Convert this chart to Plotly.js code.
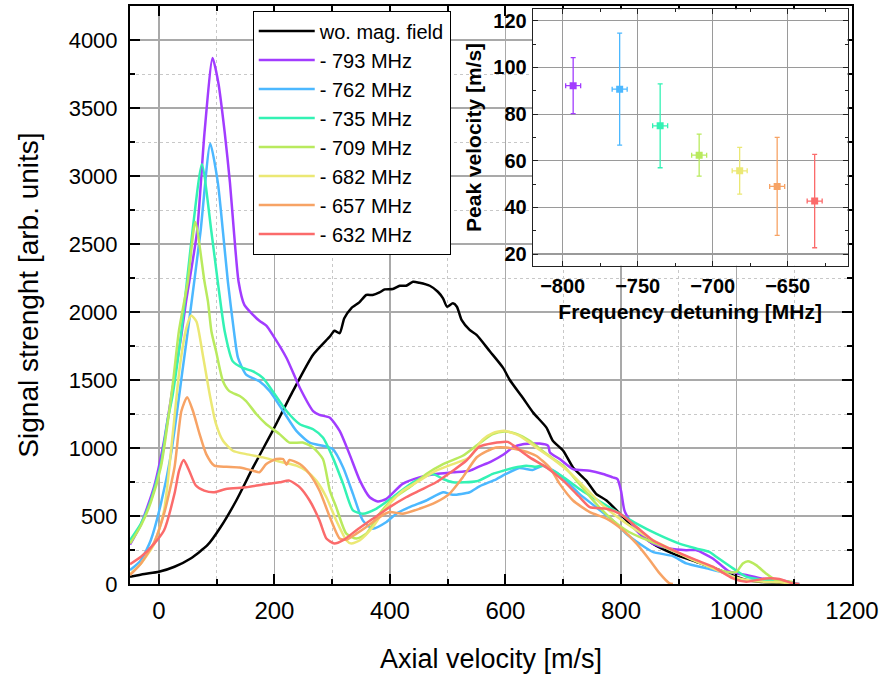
<!DOCTYPE html>
<html><head><meta charset="utf-8">
<script src="https://cdn.plot.ly/plotly-3.0.1.min.js"></script>
<style>html,body{margin:0;padding:0;background:#fff}#chart{width:883px;height:679px}</style>
</head><body><div id="chart"></div>
<script>
// ---- main chart data: axial velocity [m/s] vs signal strength [arb. units]
const vBlack = [-50,-25,0,27,55,84,107,134,163,197,232,267,296,304,313,321,333,347,359,370,382,391,405,417,428,440,451,469,483,492,499,509,516,524,538,550,573,596,607,630,648,671,682,700,717,740,757,775,798,827,855,890,930,971,1000,1017,1043,1100];
const sBlack = [53,73,90,127,188,285,419,614,857,1126,1418,1686,1820,1862,1844,1954,2027,2071,2125,2125,2144,2166,2169,2193,2193,2222,2215,2193,2149,2100,2039,2064,2039,1942,1869,1832,1711,1589,1504,1369,1260,1150,1053,980,857,760,663,614,517,395,297,224,163,102,53,29,15,10];

const v793 = [-50,-31,-8,9,24,39,47,66,79,93,103,114,123,130,138,148,163,174,186,197,221,244,267,278,296,313,330,348,365,379,394,422,451,480,509,538,555,575,596,613,630,659,674,677,694,717,746,769,786,794,800,806,815,832,855,884,913,930,959,988,1017,1043,1084,1100];
const s793 = [290,440,720,1053,1443,1832,2076,2588,3319,3867,3684,3319,2953,2588,2222,2052,1979,1935,1900,1832,1662,1443,1272,1243,1223,1126,955,760,638,607,626,736,784,809,821,833,865,900,950,1004,1028,1033,1016,967,919,845,833,809,784,772,687,541,468,370,297,261,249,249,188,90,66,41,22,5];

const v762 = [-50,-31,-14,3.5,21,41.5,53,72,89,102,111,119.5,130,137,151,174,192,215,238,261,284,301,319,336,353,370,394,411,434,463,492,509,538,555,584,601,624,647,665,688,705,728,757,786,809,832,855,890,913,948,982,1005,1034,1074,1109];
const s762 = [102,175,322,590,955,1589,1954,2588,3238,2953,2588,2222,1857,1662,1540,1491,1418,1272,1126,1040,1016,992,857,663,468,407,456,517,565,614,675,656,675,718,770,809,853,838,870,821,760,663,565,468,370,297,236,205,151,115,78,34,29,24,0];

const v735 = [-50,-31,-14,3.5,15,24,39,58,74.5,91,102,114,128,145,163,180,197,221,244,267,284,301,319,336,353,376,405,440,474,492,509,550,578,596,613,636,653,665,682,705,728,751,775,798,827,861,901,930,953,965,994,1017,1051,1091];
const s735 = [322,444,614,882,1199,1394,1857,2588,3087,2588,2222,1857,1637,1589,1564,1515,1418,1272,1175,1138,1077,931,736,541,517,553,638,748,809,772,748,755,810,833,853,870,862,870,833,772,699,638,577,517,444,370,297,261,236,200,115,54,29,17];

const v709 = [-50,-31,-14,3.5,24,34.6,50,63,79,85,91,99,111,122,140,151,169,186,209,226,249,267,284,296,307,324.5,342,359,382,405,434,463,492,526,555,578,598,618,642,671,700,728,757,786,809,832,861,901,948,982,1000,1011,1020,1034,1051,1068,1097];
const s709 = [297,430,600,860,1467,1857,2222,2661,2222,2076,1857,1711,1491,1418,1382,1345,1248,1175,1102,1040,1040,1004,919,687,565,370,334,370,517,626,711,809,882,943,1035,1102,1121,1106,1053,955,870,736,590,468,395,346,297,224,139,90,90,151,168,139,78,29,17];

const v682 = [-50,-31,-8,9,24,36,47.5,56,65,76,88,99,111,128,151,180,215,238,255,272.5,290,307,324.5,333,348,370.5,394,422.5,451,480,509,538,560,578,598,624.5,653,682,711,740,769,798,827,855,890,925,959,994,1028,1074,1097];
const s682 = [70,151,297,541,1102,1589,1881,1974,1930,1686,1394,1175,1053,980,955,931,894,870,833,760,638,468,322,297,322,419,565,687,760,833,882,931,1060,1110,1126,1089,1004,919,821,699,577,480,395,322,249,175,115,54,22,12,5];

const v657 = [-50,-31,-8,9,27,39,49,59,70.5,82,96,117,140,163,174,186,203,215,221,226,244,261,278,296,313,324.5,342,359,382,399.5,422.5,451,480,503,526,550,567,584,601.5,630,653,676.5,694,717,746,775,803.5,827,850,867,884,890];
const s657 = [66,151,309,517,857,1272,1374,1272,1102,955,870,862,857,833,821,882,919,919,876,912,882,809,687,492,334,326,370,419,492,529,517,553,602,663,784,930,975,1004,1004,980,943,857,736,614,529,480,395,297,175,78,5,0];

const v632 = [-50,-31,-8,9,27,35,43,52.5,64,78.5,96,116,151,180,209,226,244,261,278,290,304,319,342,370.5,399.5,428,451,480,509,532,555,578,604,618.5,642,671,700,728.5,746,775,798,827,855,890,930.5,959,994,1017,1051,1074,1097,1109];
const s632 = [146,200,297,395,663,833,911,833,724,687,675,699,711,731,748,760,711,614,468,334,297,322,395,480,565,638,687,748,833,906,1010,1035,1045,1004,931,857,760,638,565,553,517,419,322,249,175,127,41,17,41,37,5,0];

const seriesNames = ['wo. mag. field','- 793 MHz','- 762 MHz','- 735 MHz','- 709 MHz','- 682 MHz','- 657 MHz','- 632 MHz'];
const seriesColors = ['#000000','#a23cff','#4cb8ff','#33f2b4','#b9ea5e','#ebe874','#f7a365','#fb6b6b'];
const seriesX = [vBlack,v793,v762,v735,v709,v682,v657,v632];
const seriesY = [sBlack,s793,s762,s735,s709,s682,s657,s632];

// ---- inset data: peak velocity vs frequency detuning
const detuning = [-793,-762,-735,-709,-682,-657,-632];
const detuningErr = [5,5,5,5,5,5,5];
const peakVelocity = [92.2,90.7,75,62.4,55.7,49,42.7];
const peakVelocityErr = [12,24,18,9,10,21,20];

const FONT = 'Liberation Sans, Arial, sans-serif';
const traces = [];
for (let i = 0; i < seriesNames.length; i++) {
  traces.push({
    type: 'scatter', mode: 'lines', name: seriesNames[i],
    x: seriesX[i], y: seriesY[i],
    line: {color: seriesColors[i], width: 2.5, shape: 'spline', smoothing: 0.6},
    xaxis: 'x', yaxis: 'y'
  });
}
for (let i = 0; i < detuning.length; i++) {
  const c = seriesColors[i + 1];
  traces.push({
    type: 'scatter', mode: 'markers', showlegend: false,
    x: [detuning[i]], y: [peakVelocity[i]],
    marker: {symbol: 'square', size: 7, color: c},
    error_y: {type: 'data', array: [peakVelocityErr[i]], color: c, thickness: 1.3, width: 2.5},
    error_x: {type: 'data', array: [detuningErr[i]], color: c, thickness: 1.3, width: 2.5},
    xaxis: 'x2', yaxis: 'y2'
  });
}

const mainAxis = {
  showline: true, linecolor: '#000', linewidth: 2, mirror: 'ticks',
  ticks: 'inside', ticklen: 10, tickwidth: 2, tickcolor: '#000',
  showgrid: true, gridcolor: '#a9a9a9', gridwidth: 1.5, zeroline: false
};
const insetAxis = {
  showline: true, linecolor: '#222', linewidth: 1, mirror: 'ticks',
  ticks: 'inside', ticklen: 5, tickwidth: 1, tickcolor: '#222',
  showgrid: true, gridcolor: '#9a9a9a', gridwidth: 1.2, zeroline: false,
  tickfont: {family: FONT, size: 20, color: '#000', weight: 'bold'}
};

const layout = {
  width: 883, height: 679,
  margin: {l: 130, r: 31, t: 4, b: 95},
  paper_bgcolor: '#fff', plot_bgcolor: '#fff',
  showlegend: true,
  font: {family: FONT, color: '#000'},
  xaxis: Object.assign({}, mainAxis, {
    range: [-50, 1200], tick0: 0, dtick: 200, ticklabelstandoff: 4,
    tickfont: {family: FONT, size: 24, color: '#000'},
    minor: {dtick: 100, ticks: 'inside', ticklen: 5, tickwidth: 2, tickcolor: '#000', showgrid: true, gridcolor: '#c8c8c8', griddash: 'dot', gridwidth: 1},
    automargin: true,
    title: {text: 'Axial velocity [m/s]', font: {family: FONT, size: 27}, standoff: 26}
  }),
  yaxis: Object.assign({}, mainAxis, {
    range: [0, 4250], tick0: 0, dtick: 500, ticklabelstandoff: 6,
    tickfont: {family: FONT, size: 22, color: '#000'},
    minor: {dtick: 250, ticks: 'inside', ticklen: 5, tickwidth: 2, tickcolor: '#000', showgrid: true, gridcolor: '#c8c8c8', griddash: 'dot', gridwidth: 1},
    automargin: true,
    title: {text: 'Signal strenght [arb. units]', font: {family: FONT, size: 28}, standoff: 22}
  }),
  xaxis2: Object.assign({}, insetAxis, {
    domain: [0.5577, 0.994], anchor: 'y2', range: [-820, -610], tick0: -800, dtick: 50,
    ticklabelstandoff: 2,
    minor: {dtick: 25, ticks: 'inside', ticklen: 3, tickwidth: 1, tickcolor: '#222'},
    automargin: true,
    title: {text: 'Frequency detuning [MHz]', font: {family: FONT, size: 21, weight: 'bold'}, standoff: 8}
  }),
  yaxis2: Object.assign({}, insetAxis, {
    domain: [0.5507, 0.9945], anchor: 'x2', range: [15, 125], tick0: 20, dtick: 20,
    ticklabelstandoff: 1,
    minor: {dtick: 10, ticks: 'inside', ticklen: 3, tickwidth: 1, tickcolor: '#222'},
    title: {text: 'Peak velocity [m/s]', font: {family: FONT, size: 21, weight: 'bold'}}
  }),
  legend: {
    x: 0.170, y: 0.992, xanchor: 'left', yanchor: 'top',
    bgcolor: '#fff', bordercolor: '#000', borderwidth: 1,
    font: {family: FONT, size: 20, color: '#000'},
    itemwidth: 56, tracegroupgap: 0
  }
};

Plotly.newPlot('chart', traces, layout, {displayModeBar: false, staticPlot: true});
</script>
</body></html>
